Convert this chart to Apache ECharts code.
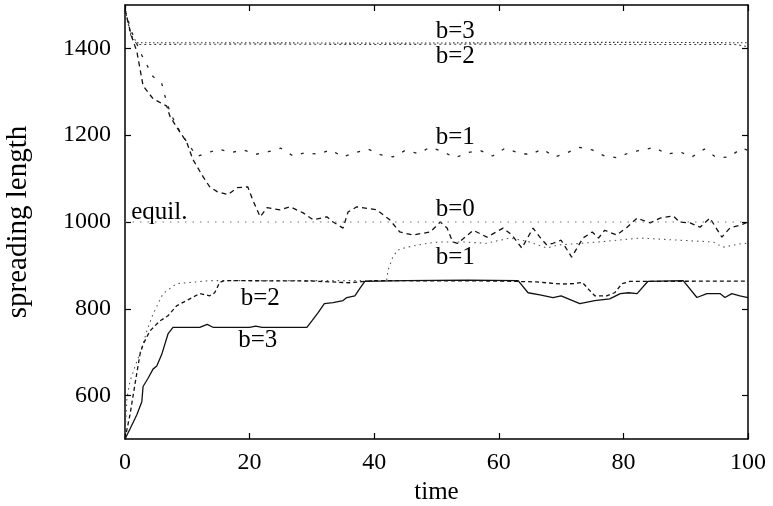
<!DOCTYPE html>
<html>
<head>
<meta charset="utf-8">
<script src="https://cdn.jsdelivr.net/npm/echarts@6/dist/echarts.min.js"></script>
<style>
html,body{margin:0;padding:0;background:#fff}
#chart{width:773px;height:506px}
</style>
</head>
<body>
<div id="chart"></div>
<script>
// tick values
var xTicks = [0, 20, 40, 60, 80, 100]
var yTicks = [600, 800, 1000, 1200, 1400]

// upper starts (from 1500)
var upperB0 = [[0,1490],[1,1430],[1.9,1393],[2.9,1314],[4.5,1284],[6.7,1267],[7.2,1244],[8.5,1214],[9.9,1184],[10.9,1144],[12.5,1105],[13.6,1081],[14.8,1070],[16.5,1063],[18,1079],[19.7,1081],[20.5,1051],[21.7,1012],[22.8,1033],[24.9,1028],[26.5,1035],[28.6,1021],[30.2,1005],[32.4,1012],[33.4,1000],[35,986],[35.8,1023],[37.2,1035],[40.4,1028],[42.5,1005],[44.1,977],[46.2,970],[49,977],[50.6,1000],[51.7,986],[52.6,954],[53.4,951],[55.9,981],[58.1,965],[60.7,986],[62.1,970],[63.7,940],[65.5,986],[66.6,965],[67.7,947],[68.7,951],[70,958],[71.7,919],[73.5,963],[75,977],[76,963],[77,981],[78.9,970],[80.6,988],[82.2,1009],[84.3,998],[85.9,1009],[88,1014],[89,1000],[90.7,998],[92.3,988],[93.9,1009],[95.8,965],[97.1,986],[99.2,995],[100,1000]]
var upperB1 = [[0,1490],[1,1440],[2.7,1384],[4.5,1335],[5.9,1319],[6.4,1291],[7.2,1254],[8.3,1221],[9.3,1198],[10.4,1175],[11.5,1151],[13,1158],[15,1168],[17,1160],[19,1166],[21,1156],[23,1162],[25,1170],[27,1152],[29,1160],[31,1156],[33,1166],[35,1150],[37,1160],[39,1168],[41,1155],[43,1150],[45,1165],[47,1158],[49,1172],[51,1162],[53,1148],[55,1160],[57,1165],[59,1152],[61,1170],[63,1160],[65,1155],[67,1168],[69,1150],[71,1160],[73,1172],[75,1166],[77,1152],[79,1148],[81,1160],[83,1166],[85,1172],[87,1156],[89,1162],[91,1150],[93,1168],[95,1148],[97,1150],[99,1170],[100,1165]]
var upperB2 = [[0,1490],[1,1425],[2,1409],[20,1410],[40,1409],[60,1410],[80,1409],[98,1409],[100,1404]]
var upperB3 = [[0,1490],[1,1430],[2,1413],[20,1413],[40,1412],[60,1413],[80,1414],[100,1413]]
var equil = [[0,1000],[100,1000]]

// lower starts (from 500)
var lowerB1 = [[0,500],[0.3,593],[0.8,633],[1.9,679],[2.7,709],[3.5,749],[4.5,788],[6.1,835],[8.3,858],[11.5,862],[13.6,865],[42,865],[42.2,888],[42.9,916],[43.7,935],[45.3,942],[48.5,951],[50.6,954],[54.3,954],[58,951],[61.8,963],[64.7,955],[67.7,940],[69.5,947],[76,954],[82.7,963],[89,958],[94.4,954],[96,942],[99.2,951],[100,950]]
var lowerB2 = [[0,500],[0.8,556],[1.6,626],[2.4,695],[2.9,718],[4,749],[5.6,772],[6.9,784],[8.3,807],[10.4,823],[12,835],[13.6,830],[14.4,837],[15.2,861],[16,865],[30,864],[36,860],[40,865],[60,864],[66,862],[70,857],[72,858],[73.4,861],[74.6,842],[75.4,830],[77.3,830],[78.6,837],[79.8,858],[81,863],[100,864]]
var lowerB3 = [[0,500],[0.8,523],[1.9,556],[2.7,586],[2.9,621],[3.7,640],[4.5,661],[5.1,668],[5.9,695],[6.9,742],[7.7,757],[12,757],[13.2,764],[14.2,757],[20,757],[21,760],[22,757],[29.2,757],[30,772],[31,791],[32,812],[33.4,814],[35,819],[35.6,826],[36.9,830],[37.7,847],[38.5,863],[45,865],[55,866],[63.1,865],[64.7,837],[66.6,832],[68.7,826],[70,830],[73,812],[75.4,819],[77.8,823],[79.5,835],[80.8,837],[82.2,835],[83.9,863],[89.6,865],[91.8,826],[93.4,835],[95.5,835],[96.3,826],[97.4,835],[98.7,830],[100,826]]

// curve labels in data coordinates
var labelNames = ['b=3', 'b=2', 'b=1', 'b=0', 'b=1', 'b=2', 'b=3', 'equil.']
var labelT = [53, 53, 53, 53, 53, 21.7, 21.3, 1.0]
var labelV = [1440, 1381, 1195, 1028, 919, 823, 728, 1022]

var font = 'Liberation Serif, Times New Roman, serif'

var chart = echarts.init(document.getElementById('chart'))

function lineSeries(data, type, width, color) {
    return {
        type: 'line',
        data: data,
        showSymbol: false,
        symbol: 'none',
        silent: true,
        lineStyle: { type: type, width: width, color: color }
    }
}

var labelData = labelNames.map(function (n, i) {
    return {
        name: n,
        value: [labelT[i], labelV[i]],
        label: { align: n === 'equil.' ? 'left' : 'center' }
    }
})

var xBase = {
    type: 'value', min: 0, max: 100,
    axisLine: { show: true, onZero: false, lineStyle: { color: '#000', width: 1.5 } },
    axisTick: { inside: true, length: 6, customValues: xTicks, lineStyle: { color: '#000', width: 1.2 } },
    splitLine: { show: false }
}
var yBase = {
    type: 'value', min: 500, max: 1500,
    axisLine: { show: true, onZero: false, lineStyle: { color: '#000', width: 1.5 } },
    axisTick: { inside: true, length: 6, customValues: yTicks, lineStyle: { color: '#000', width: 1.2 } },
    splitLine: { show: false }
}

var option = {
    animation: false,
    backgroundColor: '#fff',
    grid: { left: 125, right: 25, top: 5, bottom: 67, containLabel: false, outerBoundsMode: 'none' },
    xAxis: [
        Object.assign({}, xBase, {
            position: 'bottom',
            name: 'time', nameLocation: 'middle', nameGap: 40,
            nameTextStyle: { fontFamily: font, fontSize: 25, color: '#000' },
            axisLabel: { customValues: xTicks, margin: 12, fontFamily: font, fontSize: 24, color: '#000' }
        }),
        Object.assign({}, xBase, { position: 'top', axisLabel: { show: false } })
    ],
    yAxis: [
        Object.assign({}, yBase, {
            position: 'left',
            name: 'spreading length', nameLocation: 'middle', nameGap: 92,
            nameTextStyle: { fontFamily: font, fontSize: 29, color: '#000' },
            axisLabel: {
                customValues: yTicks, margin: 14, fontFamily: font, fontSize: 24, color: '#000',
                formatter: function (v) { return String(v) }
            }
        }),
        Object.assign({}, yBase, { position: 'right', axisLabel: { show: false } })
    ],
    series: [
        lineSeries(upperB3, [1.5, 2.5], 1.1, '#333'),
        lineSeries(upperB2, [2, 3], 1.1, '#444'),
        lineSeries(upperB1, [3, 9], 1.3, '#222'),
        lineSeries(upperB0, [5, 4], 1.3, '#111'),
        lineSeries(equil, [1.5, 6], 1.1, '#777'),
        lineSeries(lowerB1, [1.5, 4], 1.1, '#555'),
        lineSeries(lowerB2, [4, 3], 1.3, '#111'),
        lineSeries(lowerB3, 'solid', 1.3, '#111'),
        {
            type: 'scatter',
            symbolSize: 0,
            silent: true,
            z: 5,
            itemStyle: { opacity: 1 },
            data: labelData,
            label: {
                show: true,
                position: 'inside',
                formatter: '{b}',
                fontFamily: font,
                fontSize: 25,
                color: '#000',
                opacity: 1
            }
        }
    ]
}

chart.setOption(option)
</script>
</body>
</html>
